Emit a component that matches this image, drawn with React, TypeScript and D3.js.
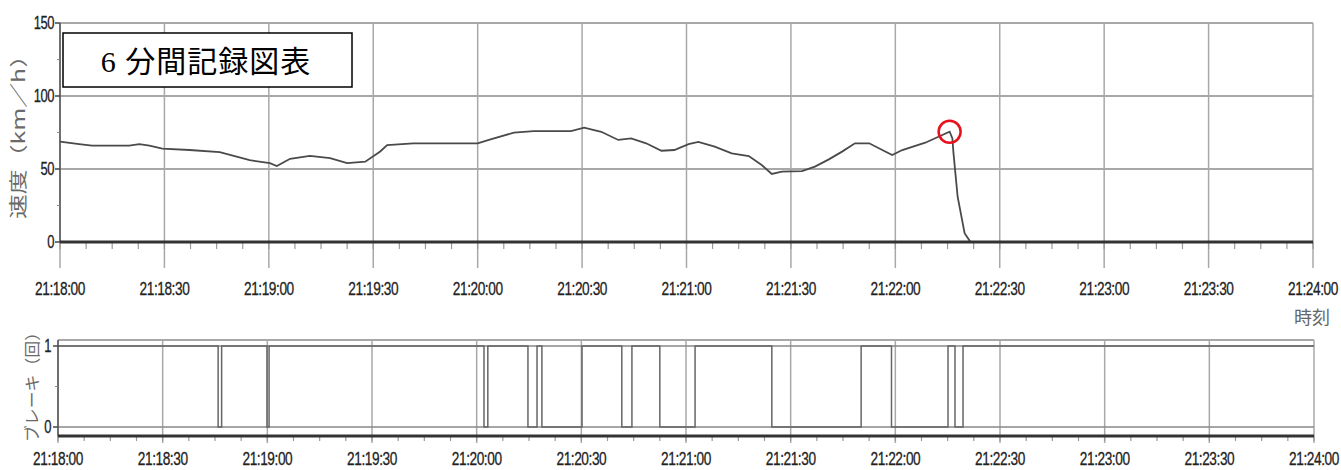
import React from 'react'
import * as d3 from 'd3'

// seconds after 21:18:00 and speed (km/h)
const speedTimes = [0, 5.5, 9.2, 19.9, 22.8, 25.7, 29.4, 37.2, 45.9, 54.5, 60.3, 62.3, 66.1, 71.8, 77.6, 82.5, 87.7, 92, 94, 101.5, 120, 123.7, 130.4, 136.1, 146.8, 150.6, 155.5, 160.4, 164.1, 168.4, 172.8, 176.5, 180.6, 183.4, 188.1, 193, 197.9, 201.6, 204.5, 207.4, 213.2, 216.9, 220.9, 224.7, 228.4, 232.5, 237.1, 239.1, 242, 248.6, 253.5, 255.6, 256.4, 256.7, 257.9, 259.9, 261.6, 360]
const speedValues = [68.7, 67, 66, 66, 67, 66, 64, 63, 61.6, 56, 54, 52, 57, 59, 57.5, 54, 55, 62, 66.4, 67.6, 67.6, 70.3, 74.9, 76, 76, 78.3, 75.5, 69.9, 71, 67.6, 62.5, 63, 67, 68.5, 65.3, 60.7, 58.9, 52.7, 46.6, 48.2, 48.6, 51.6, 56.6, 61.9, 67.6, 67.6, 62, 59.6, 63, 68, 73.3, 75.5, 71, 61, 31, 6, 0, 0]

// brake signal: starts at 1, flips at each of these times
const brakeChangeTimes = [45.9, 46.9, 59.9, 60.5, 122.1, 123.2, 134.7, 137.3, 138.7, 150.2, 161.6, 164.5, 172.5, 182.6, 204.6, 230.2, 238.9, 255.1, 257.1, 259.4]
const brakeStart = 1

const speedTicks = [0, 50, 100, 150]
const brakeTicks = [0, 1]
const markTime = 255.6
const markSpeed = 75.5

const base = new Date(2000, 0, 1, 21, 18, 0)
const toDate = (s: number) => new Date(base.getTime() + s * 1000)
const end = toDate(360)
const fmt = d3.timeFormat('%H:%M:%S')
const majorTicks = d3.timeSecond.every(30)!.range(base, new Date(end.getTime() + 1))
const minorTicks = d3.range(0, 361, 7.5).map(toDate)

const numFont = "'Liberation Sans', Arial, sans-serif"
const jpFont = "'Noto Sans CJK JP', sans-serif"
const gridC = '#a8a8a8'

// condensed numeric label (the original uses a narrow face)
const Num = ({ x, y, anchor = 'middle', size = 19, children }: any) => (
  <text transform={`translate(${x},${y}) scale(0.72,1)`} textAnchor={anchor} fontFamily={numFont}
    fontSize={size} fill="#222" stroke="#222" strokeWidth={0.3} letterSpacing={-0.6}>{children}</text>
)

export default function App() {
  const xTop = d3.scaleTime().domain([base, end]).range([60, 1313])
  const yTop = d3.scaleLinear().domain([0, 150]).range([242, 23])
  const xBot = d3.scaleTime().domain([base, end]).range([58, 1314])
  const yBot = d3.scaleLinear().domain([0, 1]).range([427, 346])
  const botTop = 340, botBottom = 436

  const speedLine = d3.line<number>()
    .x((d, i) => xTop(toDate(speedTimes[i])))
    .y(d => yTop(d))

  const brakePts: [number, number][] = [[0, brakeStart]]
  let st = brakeStart
  brakeChangeTimes.forEach(t => { st = 1 - st; brakePts.push([t, st]) })
  brakePts.push([360, st])
  const brakeLine = d3.line<[number, number]>()
    .x(d => xBot(toDate(d[0])))
    .y(d => yBot(d[1]))
    .curve(d3.curveStepAfter)

  return (
    <svg width={1341} height={470} style={{ position: 'absolute', left: 0, top: 0, background: '#fff' }}>
      {/* upper chart: speed */}
      <g>
        {majorTicks.map((d, i) => (
          <line key={'vg' + i} x1={xTop(d)} x2={xTop(d)} y1={yTop(150)} y2={268} stroke={gridC} strokeWidth={1.5} />
        ))}
        {speedTicks.filter(v => v > 0).map(v => (
          <line key={'hg' + v} x1={xTop(base)} x2={xTop(end)} y1={yTop(v)} y2={yTop(v)} stroke={gridC} strokeWidth={1.8} />
        ))}
        {minorTicks.map((d, i) => (
          <line key={'mt' + i} x1={xTop(d)} x2={xTop(d)} y1={242} y2={249} stroke="#999" strokeWidth={1.2} />
        ))}
        <line x1={xTop(base)} x2={xTop(base)} y1={yTop(150)} y2={yTop(0)} stroke="#555" strokeWidth={1.5} />
        {[25, 75, 125].map(v => (
          <line key={'ym' + v} x1={57} x2={60} y1={yTop(v)} y2={yTop(v)} stroke="#888" strokeWidth={1} />
        ))}
        {speedTicks.map(v => (
          <g key={'yt' + v}>
            <line x1={55} x2={60} y1={yTop(v)} y2={yTop(v)} stroke="#444" strokeWidth={1.5} />
            <Num x={54} y={yTop(v) + 6} anchor="end" size={18}>{v}</Num>
          </g>
        ))}
        <path d={speedLine(speedValues) || ''} fill="none" stroke="#4a4a4a" strokeWidth={1.8} />
        <line x1={xTop(base)} x2={xTop(end)} y1={yTop(0)} y2={yTop(0)} stroke="#333" strokeWidth={3} />
        {majorTicks.map((d, i) => (
          <Num key={'xl' + i} x={xTop(d)} y={295}>{fmt(d)}</Num>
        ))}
        <circle cx={xTop(toDate(markTime))} cy={yTop(markSpeed)} r={11} fill="none" stroke="#e8101a" strokeWidth={2.5} />
        <text transform="translate(25,131) rotate(-90)" textAnchor="middle" fontFamily={jpFont} fontSize={18} fill="#6a6a6a" textLength={176} lengthAdjust="spacingAndGlyphs">速度（km／h）</text>
        <text x={1312} y={324} textAnchor="middle" fontFamily={jpFont} fontSize={18} fill="#666">時刻</text>
        <rect x={63} y={33} width={289} height={54} fill="#fff" stroke="#000" strokeWidth={1.5} />
        <text x={206} y={72} textAnchor="middle" fontFamily={"'Liberation Serif', 'Noto Sans CJK JP', serif"} fontSize={30} fill="#000" letterSpacing={1}>6 分間記録図表</text>
      </g>

      {/* lower chart: brake */}
      <g>
        {majorTicks.map((d, i) => (
          <line key={'bvg' + i} x1={xBot(d)} x2={xBot(d)} y1={botTop} y2={443} stroke={gridC} strokeWidth={1.5} />
        ))}
        {minorTicks.map((d, i) => (
          <line key={'bmt' + i} x1={xBot(d)} x2={xBot(d)} y1={botBottom} y2={441} stroke="#999" strokeWidth={1.2} />
        ))}
        <line x1={xBot(base)} x2={xBot(end)} y1={botTop} y2={botTop} stroke={gridC} strokeWidth={1.8} />
        {brakeTicks.map(v => (
          <line key={'bhg' + v} x1={xBot(base)} x2={xBot(end)} y1={yBot(v)} y2={yBot(v)} stroke="#888" strokeWidth={1.5} />
        ))}
        <path d={brakeLine(brakePts) || ''} fill="none" stroke="#666" strokeWidth={1.5} />
        <line x1={xBot(base)} x2={xBot(base)} y1={botTop} y2={botBottom} stroke="#555" strokeWidth={1.5} />
        <line x1={55} x2={58} y1={yBot(0.5)} y2={yBot(0.5)} stroke="#888" strokeWidth={1} />
        {brakeTicks.map(v => (
          <g key={'byt' + v}>
            <line x1={53} x2={58} y1={yBot(v)} y2={yBot(v)} stroke="#444" strokeWidth={1.5} />
            <Num x={51} y={yBot(v) + 6} anchor="end" size={18}>{v}</Num>
          </g>
        ))}
        <line x1={xBot(base)} x2={xBot(end)} y1={botBottom} y2={botBottom} stroke="#333" strokeWidth={3} />
        {majorTicks.map((d, i) => (
          <Num key={'bxl' + i} x={xBot(d)} y={465}>{fmt(d)}</Num>
        ))}
        <text transform="translate(38,383) rotate(-90)" textAnchor="middle" fontFamily={jpFont} fontSize={16} fill="#6a6a6a" textLength={118} lengthAdjust="spacingAndGlyphs">ブレーキ（回）</text>
      </g>
    </svg>
  )
}
